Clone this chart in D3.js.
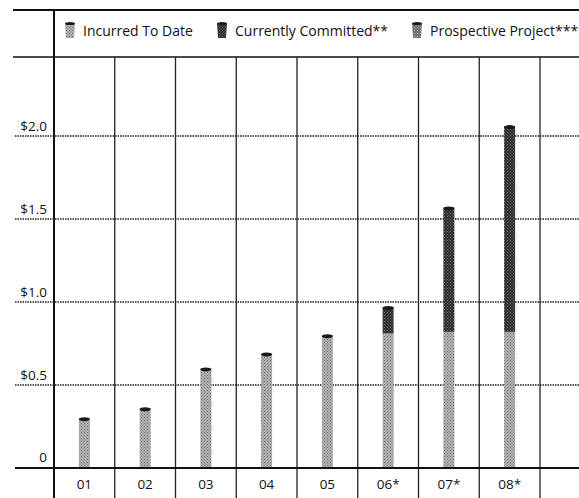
<!DOCTYPE html>
<html>
<head>
<meta charset="utf-8">
<script src="https://cdn.jsdelivr.net/npm/d3@7"></script>
<style>
    body { margin: 0; background: #fff; }
    svg { display: block; font-family: "Open Sans", sans-serif; }
</style>
</head>
<body>
<svg id="chart"></svg>
<script>
// data (billions)
const years = ["01", "02", "03", "04", "05", "06*", "07*", "08*"];
const incurred = [0.30, 0.36, 0.60, 0.69, 0.80, 0.81, 0.82, 0.82];
const committed = [0, 0, 0, 0, 0, 0.16, 0.75, 1.24];
const prospective = [0, 0, 0, 0, 0, 0, 0, 0];
const yTicks = [0.5, 1.0, 1.5, 2.0];
const legendNames = ["Incurred To Date", "Currently Committed**", "Prospective Project***"];

const width = 579;
const height = 498;

const svg = d3.select("#chart")
    .attr("width", width)
    .attr("height", height);

// stipple patterns to mimic the halftone print
function stipple(id, base, dot) {
    const p = svg.append("defs").append("pattern")
        .attr("id", id)
        .attr("width", 3)
        .attr("height", 3)
        .attr("patternUnits", "userSpaceOnUse");
    p.append("rect").attr("width", 3).attr("height", 3).attr("fill", base);
    p.append("rect").attr("x", 0).attr("y", 0).attr("width", 1).attr("height", 1).attr("fill", dot);
    p.append("rect").attr("x", 1.5).attr("y", 1.5).attr("width", 1).attr("height", 1).attr("fill", dot);
}
stipple("light", "#b4b4b4", "#6e6e6e");
stipple("dark", "#2a2a2a", "#777");
stipple("mid", "#6a6a6a", "#bbb");
const fills = ["url(#light)", "url(#dark)", "url(#mid)"];

const x = d3.scaleBand()
    .domain(years)
    .range([54, 540]);

const y = d3.scaleLinear()
    .domain([0, 2])
    .range([468, 136]);

// frame lines
svg.append("line")
    .attr("x1", 13).attr("x2", width)
    .attr("y1", 10).attr("y2", 10)
    .attr("stroke", "#111").attr("stroke-width", 2);
svg.append("line")
    .attr("x1", 13).attr("x2", width)
    .attr("y1", 57).attr("y2", 57)
    .attr("stroke", "#111").attr("stroke-width", 1.5);
svg.append("line")
    .attr("x1", 54).attr("x2", 54)
    .attr("y1", 10).attr("y2", height)
    .attr("stroke", "#111").attr("stroke-width", 2);

// column separators
svg.append("g")
    .selectAll("line")
    .data(years)
    .join("line")
    .attr("x1", d => x(d) + x.bandwidth())
    .attr("x2", d => x(d) + x.bandwidth())
    .attr("y1", 57).attr("y2", height)
    .attr("stroke", "#222").attr("stroke-width", 1.3);

// dotted gridlines and labels
const grid = svg.append("g");
grid.selectAll("line")
    .data(yTicks)
    .join("line")
    .attr("x1", 15).attr("x2", width)
    .attr("y1", d => y(d)).attr("y2", d => y(d))
    .attr("stroke", "#222")
    .attr("stroke-width", 1.4)
    .attr("stroke-dasharray", "1.5,1");
grid.selectAll("text")
    .data(yTicks)
    .join("text")
    .attr("x", 47)
    .attr("y", d => y(d) - 5)
    .attr("text-anchor", "end")
    .attr("font-size", 13.5)
    .attr("fill", "#111")
    .text(d => "$" + d.toFixed(1));
svg.append("text")
    .attr("x", 47).attr("y", y(0) - 6)
    .attr("text-anchor", "end")
    .attr("font-size", 13.5)
    .attr("fill", "#111")
    .text("0");

// bars
const barW = 11;
const bars = svg.append("g");
years.forEach((yr, i) => {
    const cx = x(yr) + x.bandwidth() / 2;
    const segs = [
        [0, incurred[i], fills[0]],
        [incurred[i], incurred[i] + committed[i], fills[1]],
        [incurred[i] + committed[i], incurred[i] + committed[i] + prospective[i], fills[2]]
    ];
    segs.forEach(s => {
        if (s[1] <= s[0]) return;
        bars.append("rect")
            .attr("x", cx - barW / 2)
            .attr("y", y(s[1]))
            .attr("width", barW)
            .attr("height", y(s[0]) - y(s[1]))
            .attr("fill", s[2]);
    });
    const top = incurred[i] + committed[i] + prospective[i];
    bars.append("ellipse")
        .attr("cx", cx)
        .attr("cy", y(top) + 1)
        .attr("rx", barW / 2)
        .attr("ry", 2)
        .attr("fill", "#1a1a1a");
});

// baseline
svg.append("line")
    .attr("x1", 15).attr("x2", width)
    .attr("y1", y(0)).attr("y2", y(0))
    .attr("stroke", "#111").attr("stroke-width", 2);

// category labels
svg.append("g")
    .selectAll("text")
    .data(years)
    .join("text")
    .attr("x", d => x(d) + x.bandwidth() / 2)
    .attr("y", 489)
    .attr("text-anchor", "middle")
    .attr("font-size", 13.5)
    .attr("fill", "#111")
    .text(d => d);

// legend
const legendX = [65, 217, 412];
const legend = svg.append("g");
legendNames.forEach((name, i) => {
    const lx = legendX[i];
    legend.append("path")
        .attr("d", `M${lx},23 L${lx + 10},23 L${lx + 9},38 L${lx + 1},38 Z`)
        .attr("fill", fills[i]);
    legend.append("ellipse")
        .attr("cx", lx + 5).attr("cy", 23.5)
        .attr("rx", 5).attr("ry", 1.6)
        .attr("fill", "#1a1a1a");
    legend.append("text")
        .attr("x", lx + 18)
        .attr("y", 36)
        .attr("font-size", 14)
        .attr("fill", "#111")
        .text(name);
});
</script>
</body>
</html>
